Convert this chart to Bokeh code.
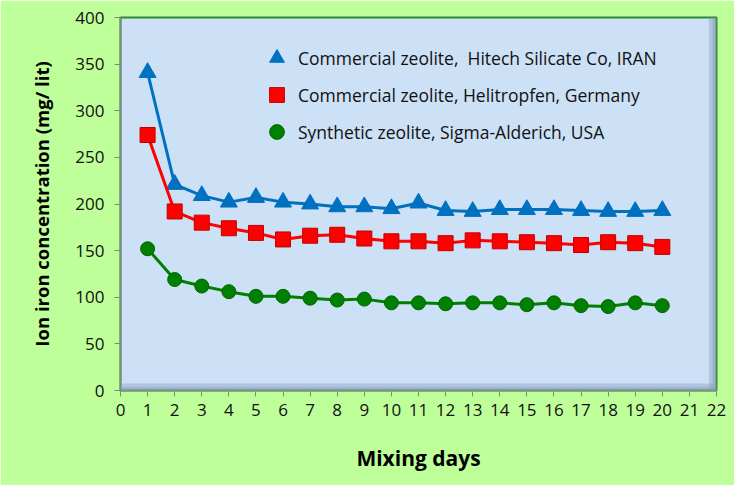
from bokeh.plotting import figure
from bokeh.models import Range1d, FixedTicker, BoxAnnotation, Legend, LegendItem
from bokeh.embed import file_html
from bokeh.resources import INLINE

days = list(range(1, 21))
hitech = [341, 221, 209, 202, 207, 202, 200, 197, 197, 195, 201, 193, 192, 194, 194, 194, 193, 192, 192, 193]
helitropfen = [274, 192, 180, 174, 169, 162, 166, 167, 163, 160, 160, 158, 161, 160, 159, 158, 156, 159, 158, 154]
sigma = [152, 119, 112, 106, 101, 101, 99, 97, 98, 94, 94, 93, 94, 94, 92, 94, 91, 90, 94, 91]

x_ticks = list(range(0, 23))
y_ticks = list(range(0, 401, 50))

names = ["Commercial zeolite,  Hitech Silicate Co, IRAN",
         "Commercial zeolite, Helitropfen, Germany",
         "Synthetic zeolite, Sigma-Alderich, USA"]

FONT = "Open Sans"

p = figure(width=734, height=485, x_range=Range1d(0, 22), y_range=Range1d(0, 400),
           output_backend="svg", toolbar_location=None,
           min_border_left=120, min_border_right=18, min_border_top=17, min_border_bottom=95,
           background_fill_color="#cce0f6", border_fill_color="#bfff99",
           outline_line_color="#2e8b2e", outline_line_width=2)

p.grid.visible = False

# bevel shading on the plot area
p.add_layout(BoxAnnotation(left=21.72, right=22, fill_color="#8ea3bf", fill_alpha=0.45, line_alpha=0))
p.add_layout(BoxAnnotation(left=21.86, right=22, fill_color="#7d92ae", fill_alpha=0.4, line_alpha=0))
p.add_layout(BoxAnnotation(bottom=0, top=7.5, fill_color="#8ea3bf", fill_alpha=0.45, line_alpha=0))
p.add_layout(BoxAnnotation(bottom=0, top=3.5, fill_color="#7d92ae", fill_alpha=0.4, line_alpha=0))

for ax in (p.xaxis[0], p.yaxis[0]):
    ax.axis_line_color = "#868686"
    ax.axis_line_width = 1.5
    ax.major_tick_line_color = "#868686"
    ax.major_tick_in = 0
    ax.major_tick_out = 6
    ax.minor_tick_line_color = None
    ax.major_label_text_font = FONT
    ax.major_label_text_font_size = "17px"
    ax.major_label_text_color = "#111111"
    ax.axis_label_text_font = FONT
    ax.axis_label_text_font_style = "bold"
    ax.axis_label_text_color = "#000000"

p.xaxis.ticker = FixedTicker(ticks=x_ticks)
p.yaxis.ticker = FixedTicker(ticks=y_ticks)
p.xaxis.major_label_standoff = 7
p.yaxis.major_label_standoff = 10
p.xaxis.axis_label = "Mixing days"
p.xaxis.axis_label_text_font_size = "21px"
p.xaxis.axis_label_standoff = 25
p.yaxis.axis_label = "Ion iron concentration (mg/ lit)"
p.yaxis.axis_label_text_font_size = "18.5px"
p.yaxis.axis_label_standoff = 18

series = [
    (hitech, "#0070c0", "triangle", 17, "#0070c0"),
    (helitropfen, "#ff0000", "square", 15, "#c00000"),
    (sigma, "#008000", "circle", 14, "#006400"),
]

items = []
for (vals, col, marker, size, edge), name in zip(series, names):
    p.line(days, vals, line_color=col, line_width=3)
    r = p.scatter(days, vals, marker=marker, size=size, fill_color=col, line_color=edge, line_width=1)
    items.append(LegendItem(label=name, renderers=[r]))

legend = Legend(items=items, location=(138, 240), orientation="vertical",
                glyph_width=37, glyph_height=37, label_height=37, spacing=0,
                padding=0, margin=0, label_standoff=3,
                background_fill_alpha=0, border_line_alpha=0,
                label_text_font=FONT, label_text_font_size="17.5px", label_text_color="#111111")
p.add_layout(legend)

open("out.html", "w").write(file_html(p, INLINE))
